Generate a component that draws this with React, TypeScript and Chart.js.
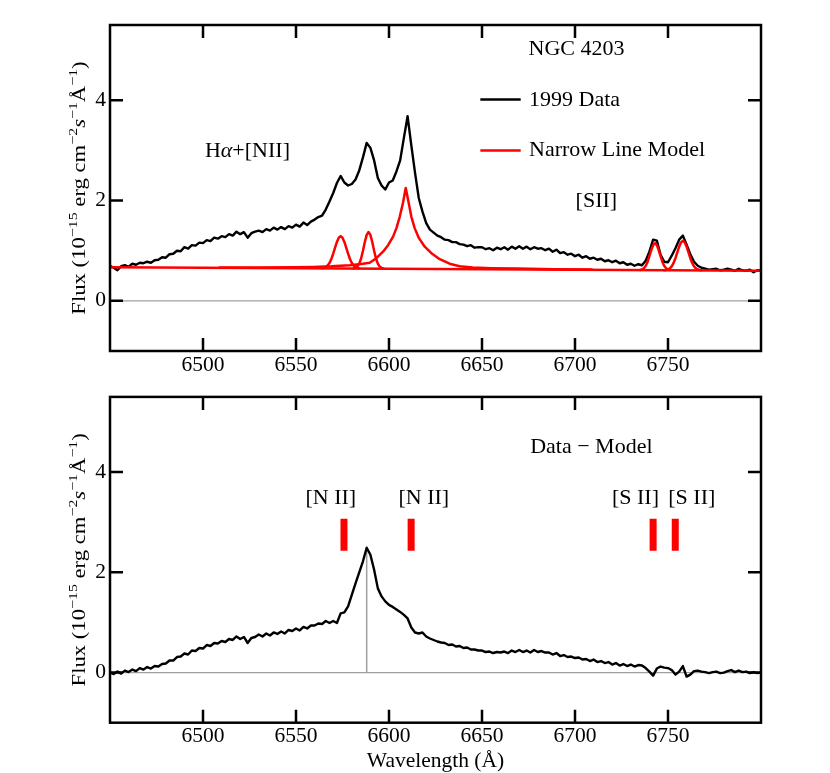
import React, { useEffect, useRef } from "react";
import { Chart, registerables } from "chart.js";

Chart.register(...registerables);

// ---------- data ----------
const WAVELENGTH = [
  6450, 6452, 6454, 6456, 6458, 6460, 6462, 6464, 6466, 6468,
  6470, 6472, 6474, 6476, 6478, 6480, 6482, 6484, 6486, 6488,
  6490, 6492, 6494, 6496, 6498, 6500, 6502, 6504, 6506, 6508,
  6510, 6512, 6514, 6516, 6518, 6520, 6522, 6524, 6526, 6528,
  6530, 6532, 6534, 6536, 6538, 6540, 6542, 6544, 6546, 6548,
  6550, 6552, 6554, 6556, 6558, 6560, 6562, 6564, 6566, 6568,
  6570, 6572, 6574, 6576, 6578, 6580, 6582, 6584, 6586, 6588,
  6590, 6592, 6594, 6596, 6598, 6600, 6602, 6604, 6606, 6608,
  6610, 6612, 6614, 6616, 6618, 6620, 6622, 6624, 6626, 6628,
  6630, 6632, 6634, 6636, 6638, 6640, 6642, 6644, 6646, 6648,
  6650, 6652, 6654, 6656, 6658, 6660, 6662, 6664, 6666, 6668,
  6670, 6672, 6674, 6676, 6678, 6680, 6682, 6684, 6686, 6688,
  6690, 6692, 6694, 6696, 6698, 6700, 6702, 6704, 6706, 6708,
  6710, 6712, 6714, 6716, 6718, 6720, 6722, 6724, 6726, 6728,
  6730, 6732, 6734, 6736, 6738, 6740, 6742, 6744, 6746, 6748,
  6750, 6752, 6754, 6756, 6758, 6760, 6762, 6764, 6766, 6768,
  6770, 6772, 6774, 6776, 6778, 6780, 6782, 6784, 6786, 6788,
  6790, 6792, 6794, 6796, 6798, 6800,
];

const FLUX_1999 = [
  0.70, 0.66, 0.61, 0.69, 0.71, 0.68, 0.74, 0.72, 0.76, 0.75,
  0.78, 0.76, 0.81, 0.82, 0.87, 0.86, 0.93, 0.94, 1.00, 0.99,
  1.07, 1.04, 1.11, 1.10, 1.16, 1.15, 1.21, 1.19, 1.26, 1.24,
  1.29, 1.27, 1.33, 1.30, 1.38, 1.33, 1.37, 1.26, 1.35, 1.38,
  1.40, 1.37, 1.43, 1.40, 1.46, 1.42, 1.47, 1.43, 1.49, 1.46,
  1.52, 1.48, 1.56, 1.51, 1.58, 1.62, 1.67, 1.70, 1.82, 1.98,
  2.15, 2.35, 2.49, 2.36, 2.30, 2.33, 2.42, 2.60, 2.86, 3.15,
  3.05, 2.80, 2.45, 2.30, 2.22, 2.36, 2.40, 2.58, 2.80, 3.25,
  3.68, 3.10, 2.55, 2.05, 1.78, 1.55, 1.42, 1.36, 1.30, 1.27,
  1.22, 1.21, 1.17, 1.17, 1.13, 1.12, 1.09, 1.11, 1.06, 1.07,
  1.07, 1.03, 1.05, 1.01, 1.06, 1.03, 1.07, 1.02, 1.08, 1.04,
  1.09, 1.04, 1.08, 1.03, 1.07, 1.04, 1.05, 1.01, 1.04, 0.98,
  1.02, 0.95, 0.97, 0.92, 0.94, 0.89, 0.92, 0.86, 0.89, 0.84,
  0.86, 0.82, 0.84, 0.79, 0.81, 0.77, 0.80, 0.75, 0.77, 0.72,
  0.74, 0.70, 0.73, 0.71, 0.80, 0.98, 1.22, 1.20, 0.92, 0.78,
  0.77, 0.90, 1.05, 1.22, 1.30, 1.12, 0.93, 0.78, 0.70, 0.66,
  0.64, 0.62, 0.63, 0.64, 0.61, 0.62, 0.64, 0.62, 0.60, 0.64,
  0.61, 0.60, 0.62, 0.57, 0.61, 0.60,
];

const RESIDUAL = [
  0.00, -0.03, 0.02, -0.02, 0.04, 0.01, 0.06, 0.03, 0.09, 0.06,
  0.11, 0.08, 0.13, 0.12, 0.17, 0.18, 0.24, 0.24, 0.31, 0.32,
  0.38, 0.36, 0.44, 0.43, 0.49, 0.48, 0.55, 0.53, 0.59, 0.58,
  0.63, 0.61, 0.67, 0.65, 0.72, 0.67, 0.71, 0.59, 0.69, 0.71,
  0.76, 0.72, 0.78, 0.74, 0.80, 0.77, 0.82, 0.78, 0.85, 0.83,
  0.88, 0.84, 0.91, 0.88, 0.94, 0.94, 0.98, 0.97, 1.03, 0.99,
  1.03, 0.99, 1.18, 1.20, 1.32, 1.55, 1.78, 2.00, 2.22, 2.49,
  2.35, 2.05, 1.68, 1.52, 1.42, 1.35, 1.31, 1.26, 1.21, 1.15,
  1.08, 0.90, 0.80, 0.78, 0.80, 0.72, 0.68, 0.65, 0.62, 0.60,
  0.59, 0.55, 0.56, 0.52, 0.53, 0.49, 0.50, 0.46, 0.46, 0.44,
  0.44, 0.41, 0.42, 0.39, 0.41, 0.40, 0.42, 0.39, 0.44, 0.41,
  0.45, 0.41, 0.44, 0.40, 0.45, 0.41, 0.43, 0.40, 0.40, 0.36,
  0.39, 0.33, 0.35, 0.31, 0.32, 0.29, 0.30, 0.26, 0.27, 0.23,
  0.26, 0.21, 0.23, 0.19, 0.21, 0.16, 0.19, 0.14, 0.17, 0.13,
  0.16, 0.12, 0.15, 0.14, 0.09, 0.02, -0.06, 0.08, 0.12, 0.10,
  0.09, 0.05, -0.04, 0.02, 0.13, -0.08, -0.04, 0.03, 0.04, 0.02,
  0.01, -0.01, 0.01, 0.02, -0.01, 0.00, 0.03, 0.05, 0.01, 0.04,
  0.01, 0.02, -0.01, 0.01, -0.01, 0.00,
];

// narrow line model components (continuum + each line)
const CONT_WAVE = [6450, 6800];
const CONT_FLUX = [0.67, 0.6];

const NII_A_WAVE = [6564, 6565, 6566, 6567, 6568, 6569, 6570, 6571, 6572, 6573, 6574, 6575, 6576, 6577, 6578, 6579, 6580, 6581, 6582, 6583, 6584];
const NII_A_FLUX = [0.650, 0.657, 0.673, 0.704, 0.756, 0.835, 0.940, 1.060, 1.175, 1.259, 1.290, 1.259, 1.175, 1.060, 0.940, 0.835, 0.756, 0.704, 0.673, 0.657, 0.650];

const HA_N_WAVE = [6581, 6582, 6583, 6584, 6585, 6586, 6587, 6588, 6589, 6590, 6591, 6592, 6593, 6594, 6595, 6596, 6597];
const HA_N_FLUX = [0.646, 0.657, 0.683, 0.741, 0.845, 0.998, 1.172, 1.316, 1.372, 1.316, 1.172, 0.998, 0.845, 0.741, 0.683, 0.657, 0.646];

const NII_B_WAVE = [
  6509, 6529, 6549, 6559, 6569, 6579, 6585, 6589.6, 6593.2, 6596.8, 6599.5, 6602.2, 6604.0, 6605.8, 6607.5,
  6609.0, 6610.6, 6612.0, 6613.8, 6616.1, 6619.2, 6622.8, 6627.3, 6632.6, 6638, 6645, 6655, 6669, 6689, 6709,
];
const NII_B_FLUX = [
  0.665, 0.667, 0.669, 0.675, 0.688, 0.712, 0.735, 0.76, 0.85, 0.98, 1.11, 1.28, 1.45, 1.68, 1.95,
  2.25, 1.95, 1.68, 1.45, 1.25, 1.08, 0.95, 0.83, 0.74, 0.69, 0.665, 0.652, 0.643, 0.632, 0.625,
];

const SII_A_WAVE = [6735, 6736, 6737, 6738, 6739, 6740, 6741, 6742, 6743, 6744, 6745, 6746, 6747, 6748, 6749, 6750, 6751];
const SII_A_FLUX = [0.616, 0.626, 0.649, 0.696, 0.776, 0.889, 1.013, 1.113, 1.151, 1.113, 1.013, 0.889, 0.776, 0.696, 0.649, 0.626, 0.616];

const SII_B_WAVE = [6748, 6749, 6750, 6751, 6752, 6753, 6754, 6755, 6756, 6757, 6758, 6759, 6760, 6761, 6762, 6763, 6764, 6765, 6766, 6767, 6768];
const SII_B_FLUX = [0.610, 0.614, 0.625, 0.647, 0.688, 0.755, 0.850, 0.966, 1.081, 1.166, 1.198, 1.166, 1.081, 0.966, 0.850, 0.755, 0.688, 0.647, 0.625, 0.614, 0.610];

// residual panel markers
const MARK_WAVE = [6575.8, 6611.9, 6742.0, 6753.9];
const MARK_RANGE = [2.43, 3.07];
const MARK_LABELS = ["[N II]", "[N II]", "[S II]", "[S II]"];
const MARK_LABEL_WAVE = [6568.7, 6618.7, 6732.5, 6762.8];
const PEAK_WAVE = 6588;
const PEAK_FLUX = 2.45;

const X_RANGE = [6450, 6800];
const Y_RANGE = [-1, 5.5];
const X_TICKS = [6500, 6550, 6600, 6650, 6700, 6750];
const Y_TICKS = [0, 2, 4];

const LEGEND_LABELS = ["1999 Data", "Narrow Line Model"];

// ---------- styling helpers ----------
const FONT = '"Liberation Serif", "Times New Roman", Times, serif';
const FS = 21;
const FS_TICK = 21.5;
const FS_NOTE = 22;
const RED = "#ff0000";
const GREY = "#a0a0a0";
const TICK_LEN = 13;

type Seg = { t: string; sup?: boolean; italic?: boolean };

const Y_TITLE: Seg[] = [
  { t: "Flux (10" },
  { t: "\u221215", sup: true },
  { t: " erg cm" },
  { t: "\u22122", sup: true },
  { t: "s", italic: true },
  { t: "\u22121", sup: true },
  { t: "\u00c5" },
  { t: "\u22121", sup: true },
  { t: ")" },
];

const pts = (xs: number[], ys: number[]) => xs.map((x, i) => ({ x, y: ys[i] }));

function segFont(s: Seg, size: number) {
  const sz = s.sup ? size * 0.7 : size;
  return `${s.italic ? "italic " : ""}${sz}px ${FONT}`;
}

function drawRich(ctx: CanvasRenderingContext2D, segs: Seg[], cx: number, baseY: number, size: number) {
  let total = 0;
  const widths = segs.map((s) => {
    ctx.font = segFont(s, size);
    const w = ctx.measureText(s.t).width;
    total += w;
    return w;
  });
  let x = cx - total / 2;
  ctx.textAlign = "left";
  ctx.textBaseline = "alphabetic";
  segs.forEach((s, i) => {
    ctx.font = segFont(s, size);
    ctx.fillText(s.t, x, baseY - (s.sup ? size * 0.42 : 0));
    x += widths[i];
  });
}

function drawFrame(chart: any) {
  const { ctx, chartArea: a, scales } = chart;
  ctx.save();
  ctx.strokeStyle = "#000";
  ctx.lineWidth = 2.5;
  ctx.strokeRect(a.left, a.top, a.right - a.left, a.bottom - a.top);
  ctx.beginPath();
  for (const v of X_TICKS) {
    const px = scales.x.getPixelForValue(v);
    ctx.moveTo(px, a.top);
    ctx.lineTo(px, a.top + TICK_LEN);
    ctx.moveTo(px, a.bottom);
    ctx.lineTo(px, a.bottom - TICK_LEN);
  }
  for (const v of Y_TICKS) {
    const py = scales.y.getPixelForValue(v);
    ctx.moveTo(a.left, py);
    ctx.lineTo(a.left + TICK_LEN, py);
    ctx.moveTo(a.right, py);
    ctx.lineTo(a.right - TICK_LEN, py);
  }
  ctx.stroke();
  ctx.restore();
}

function drawYTitle(chart: any) {
  const { ctx, chartArea: a } = chart;
  ctx.save();
  ctx.fillStyle = "#000";
  ctx.translate(a.left - 25, (a.top + a.bottom) / 2);
  ctx.rotate(-Math.PI / 2);
  ctx.scale(1.08, 0.88);
  drawRich(ctx, Y_TITLE, 0, 0, FS);
  ctx.restore();
}

const lineDs = (data: any[], color: string, width: number, order: number, cap: any = "round") => ({
  data,
  borderColor: color,
  backgroundColor: color,
  borderWidth: width,
  pointRadius: 0,
  pointHoverRadius: 0,
  fill: false,
  tension: 0,
  order,
  borderJoinStyle: "round",
  borderCapStyle: cap,
});

const makeScales = (xAxisHeight: number) => ({
  x: {
    type: "linear",
    min: X_RANGE[0],
    max: X_RANGE[1],
    grid: { display: false, drawTicks: false },
    border: { display: false },
    ticks: {
      color: "#000",
      font: { family: FONT, size: FS_TICK },
      padding: 1,
      maxRotation: 0,
      autoSkip: false,
      callback: (v: any) => String(v),
    },
    afterBuildTicks: (s: any) => {
      s.ticks = X_TICKS.map((value) => ({ value }));
    },
    afterFit: (s: any) => {
      s.height = xAxisHeight;
    },
  },
  y: {
    type: "linear",
    min: Y_RANGE[0],
    max: Y_RANGE[1],
    grid: { display: false, drawTicks: false },
    border: { display: false },
    ticks: {
      color: "#000",
      font: { family: FONT, size: FS_TICK },
      padding: 4,
      autoSkip: false,
      callback: (v: any) => String(v),
    },
    afterBuildTicks: (s: any) => {
      s.ticks = Y_TICKS.map((value) => ({ value }));
    },
    afterFit: (s: any) => {
      s.width = 110;
    },
  },
});

export default function App() {
  const topRef = useRef<HTMLCanvasElement>(null);
  const botRef = useRef<HTMLCanvasElement>(null);

  useEffect(() => {
    const topDecor = {
      id: "topDecor",
      afterDatasetsDraw(chart: any) {
        const { ctx } = chart;
        const xs = chart.scales.x;
        const ys = chart.scales.y;
        drawFrame(chart);
        drawYTitle(chart);
        ctx.save();
        ctx.fillStyle = "#000";
        ctx.font = `${FS_NOTE}px ${FONT}`;
        ctx.textAlign = "center";
        ctx.textBaseline = "alphabetic";
        ctx.fillText("NGC 4203", xs.getPixelForValue(6700.8), ys.getPixelForValue(4.894));
        ctx.fillText("[SII]", xs.getPixelForValue(6711.5), ys.getPixelForValue(1.88));
        drawRich(
          ctx,
          [{ t: "H" }, { t: "\u03b1", italic: true }, { t: "+[NII]" }],
          xs.getPixelForValue(6523.9),
          ys.getPixelForValue(2.868),
          FS_NOTE
        );
        // legend
        const lx0 = xs.getPixelForValue(6649.1);
        const lx1 = xs.getPixelForValue(6670.8);
        const tx = xs.getPixelForValue(6675.3);
        ctx.lineWidth = 2.5;
        ctx.lineCap = "butt";
        ctx.strokeStyle = "#000";
        ctx.beginPath();
        ctx.moveTo(lx0, ys.getPixelForValue(4.014));
        ctx.lineTo(lx1, ys.getPixelForValue(4.014));
        ctx.stroke();
        ctx.strokeStyle = RED;
        ctx.beginPath();
        ctx.moveTo(lx0, ys.getPixelForValue(3.0));
        ctx.lineTo(lx1, ys.getPixelForValue(3.0));
        ctx.stroke();
        ctx.font = `${FS_NOTE}px ${FONT}`;
        ctx.textAlign = "left";
        ctx.fillText(LEGEND_LABELS[0], tx, ys.getPixelForValue(3.88));
        ctx.fillText(LEGEND_LABELS[1], tx, ys.getPixelForValue(2.88));
        ctx.restore();
      },
    };

    const botDecor = {
      id: "botDecor",
      afterDatasetsDraw(chart: any) {
        const { ctx, chartArea: a } = chart;
        const xs = chart.scales.x;
        const ys = chart.scales.y;
        drawFrame(chart);
        drawYTitle(chart);
        ctx.save();
        ctx.fillStyle = "#000";
        ctx.font = `${FS_NOTE}px ${FONT}`;
        ctx.textAlign = "center";
        ctx.textBaseline = "alphabetic";
        ctx.fillText("Data \u2212 Model", xs.getPixelForValue(6708.8), ys.getPixelForValue(4.388));
        MARK_LABELS.forEach((lab, i) => {
          ctx.fillText(lab, xs.getPixelForValue(MARK_LABEL_WAVE[i]), ys.getPixelForValue(3.368));
        });
        ctx.font = `${FS_TICK}px ${FONT}`;
        ctx.fillText("Wavelength (\u00c5)", (a.left + a.right) / 2, a.bottom + 44.6);
        ctx.restore();
      },
    };

    const topChart = new Chart(topRef.current as HTMLCanvasElement, {
      type: "line",
      data: {
        datasets: [
          lineDs(pts(X_RANGE, [0, 0]), GREY, 1.3, 10),
          lineDs(pts(WAVELENGTH, FLUX_1999), "#000", 2.4, 5),
          lineDs(pts(CONT_WAVE, CONT_FLUX), RED, 2.5, 1),
          lineDs(pts(NII_A_WAVE, NII_A_FLUX), RED, 2.5, 1),
          lineDs(pts(HA_N_WAVE, HA_N_FLUX), RED, 2.5, 1),
          lineDs(pts(NII_B_WAVE, NII_B_FLUX), RED, 2.5, 1),
          lineDs(pts(SII_A_WAVE, SII_A_FLUX), RED, 2.5, 1),
          lineDs(pts(SII_B_WAVE, SII_B_FLUX), RED, 2.5, 1),
        ] as any,
      },
      options: {
        animation: false,
        responsive: false,
        maintainAspectRatio: false,
        devicePixelRatio: 1,
        events: [],
        layout: { padding: { left: 0, right: 69, top: 25, bottom: 0 } },
        plugins: { legend: { display: false }, tooltip: { enabled: false } },
        scales: makeScales(29) as any,
      },
      plugins: [topDecor],
    });

    const botChart = new Chart(botRef.current as HTMLCanvasElement, {
      type: "line",
      data: {
        datasets: [
          lineDs(pts(X_RANGE, [0, 0]), GREY, 1.3, 10),
          lineDs(pts([PEAK_WAVE, PEAK_WAVE], [0, PEAK_FLUX]), GREY, 1.5, 9),
          lineDs(pts(WAVELENGTH, RESIDUAL), "#000", 2.4, 5),
          ...MARK_WAVE.map((w) => lineDs(pts([w, w], MARK_RANGE), RED, 7, 1, "butt")),
        ] as any,
      },
      options: {
        animation: false,
        responsive: false,
        maintainAspectRatio: false,
        devicePixelRatio: 1,
        events: [],
        layout: { padding: { left: 0, right: 69, top: 16.7, bottom: 0 } },
        plugins: { legend: { display: false }, tooltip: { enabled: false } },
        scales: makeScales(50.3) as any,
      },
      plugins: [botDecor],
    });

    return () => {
      topChart.destroy();
      botChart.destroy();
    };
  }, []);

  return (
    <div style={{ position: "absolute", left: 0, top: 0, width: 830, height: 773, background: "#fff" }}>
      <canvas
        ref={topRef}
        width={830}
        height={380}
        style={{ position: "absolute", left: 0, top: 0, width: 830, height: 380 }}
      />
      <canvas
        ref={botRef}
        width={830}
        height={393}
        style={{ position: "absolute", left: 0, top: 380, width: 830, height: 393 }}
      />
    </div>
  );
}
